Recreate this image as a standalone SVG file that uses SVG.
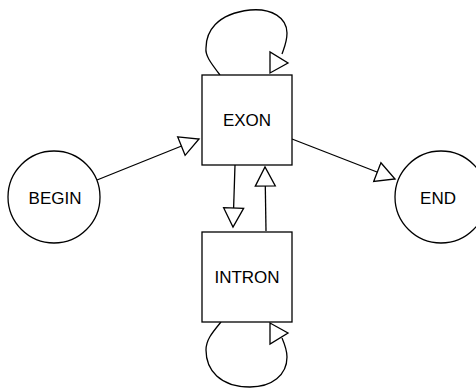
<svg xmlns="http://www.w3.org/2000/svg" width="476" height="389" viewBox="0 0 476 389">
<defs>
<style>
.n{fill:#fff;stroke:#000;stroke-width:1.3}
.t{font-family:"Liberation Sans",Arial,sans-serif;font-size:17px;fill:#000;text-anchor:middle;dominant-baseline:central}
.e{fill:none;stroke:#000;stroke-width:1.3}
.h{fill:#fff;stroke:#000;stroke-width:1.3;stroke-linejoin:miter}
</style>
<marker id="a" markerUnits="userSpaceOnUse" markerWidth="22" markerHeight="24" refX="19" refY="11" orient="auto" viewBox="-1 -1 22 24">
<path d="M0,1 L19,11 L0,21 Z" class="h"/>
</marker>
</defs>
<rect width="476" height="389" fill="#fff"/>
<g id="connectors">
<path class="e" d="M97,180 L199,139" marker-end="url(#a)"/>
<path class="e" d="M292,139 L395,179" marker-end="url(#a)"/>
<path class="e" d="M235,165 L233,227" marker-end="url(#a)"/>
<path class="e" d="M266,231 L265,167" marker-end="url(#a)"/>
<path class="e" d="M220,75 C210,62 205,55 206,48 C206,32 216,14 250,10 C272,8 287,18 287,33 C287,42 284,48 282,54"/>
<polygon class="h" points="270,52 270,73 288,63"/>
<path class="e" d="M221,322 C212,333 206,340 206,350 C206,370 220,387 250,387 C272,387 287,375 287,357 C287,350 285,345 282,338"/>
<polygon class="h" points="270,323 270,344 288,333"/>
</g>
<g id="begin">
<circle class="n" cx="54" cy="197" r="46"/>
<text class="t" x="55" y="198">BEGIN</text>
</g>
<g id="end">
<circle class="n" cx="441" cy="197" r="46"/>
<text class="t" x="438" y="198">END</text>
</g>
<g id="exon">
<rect class="n" x="202" y="75" width="90" height="90"/>
<text class="t" x="247" y="120">EXON</text>
</g>
<g id="intron">
<rect class="n" x="202" y="232" width="90" height="90"/>
<text class="t" x="247" y="277">INTRON</text>
</g>
</svg>
